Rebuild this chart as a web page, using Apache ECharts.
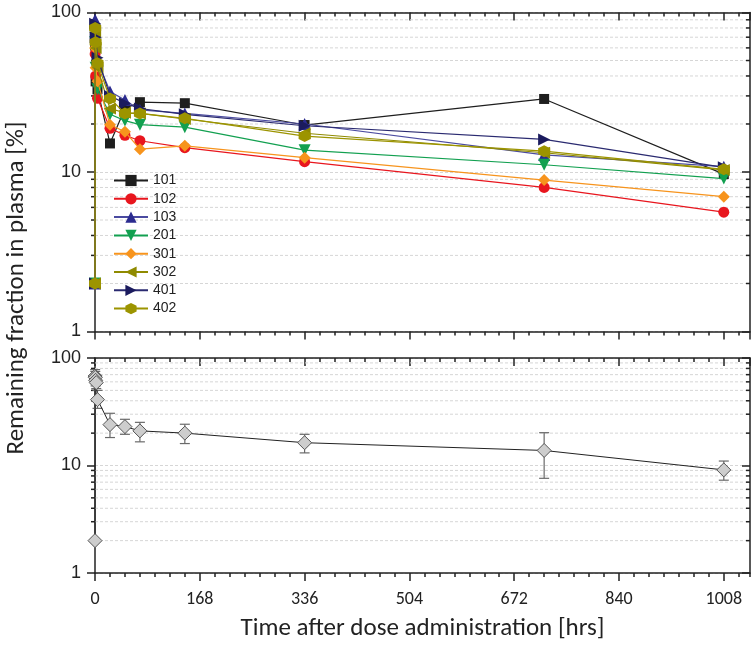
<!DOCTYPE html>
<html><head><meta charset="utf-8">
<script src="https://cdn.jsdelivr.net/npm/echarts@6/dist/echarts.min.js"></script>
<style>html,body{margin:0;padding:0;background:#fff}#c{width:756px;height:645px}</style>
</head><body><div id="c"></div><script>
// ---- data ----
const times = [0, 0.25, 1, 4, 24, 48, 72, 144, 336, 720, 1008];
const s101 = [2, 62, 37, 33, 15.1, 25, 27.4, 27.0, 19.7, 28.7, 9.7];
const s102 = [2, 55, 40, 29, 18.8, 17.0, 15.7, 14.2, 11.6, 8.0, 5.6];
const s103 = [2, 90, 75, 50, 32, 28.3, 24.5, 23.3, 20.0, 12.8, 10.8];
const s201 = [2, 65, 45, 33, 23, 21, 19.8, 19.1, 13.7, 11.1, 9.1];
const s301 = [2, 60, 45, 37, 19.8, 17.9, 13.9, 14.6, 12.3, 8.9, 7.0];
const s302 = [2, 75, 60, 45, 25, 23.5, 23.3, 21.5, 17.5, 13.2, 10.3];
const s401 = [2, 85, 70, 52, 30, 27, 25, 23, 19.5, 16.0, 10.7];
const s402 = [2, 80, 65, 48, 28.9, 23.3, 23.3, 21.7, 16.8, 13.5, 10.4];
const seriesNames = ['101', '102', '103', '201', '301', '302', '401', '402'];
const seriesValues = [s101, s102, s103, s201, s301, s302, s401, s402];

const meanTimes = [0, 0.25, 0.5, 1, 2, 4, 24, 48, 72, 144, 336, 720, 1008];
const meanValues = [2, 68, 66, 62, 59, 41, 24, 23, 21, 20, 16.3, 13.8, 9.1];
const meanLow = [2, 60, 58, 55, 52, 34, 18.2, 19.5, 16.6, 16.0, 13.1, 7.6, 7.3];
const meanHigh = [2, 78, 75, 70, 66, 50, 30.6, 26.9, 25.2, 24.2, 19.5, 20.2, 11.0];

const xMajorStep = 168;
const xMinorStep = 24;
const xMax = 1050;
const yMinorTicks = [2, 3, 4, 5, 6, 7, 8, 9, 20, 30, 40, 50, 60, 70, 80, 90];

// ---- styles ----
const colors = ['#1e1e1e', '#e8161e', '#2b2b8f', '#12a050', '#f7941d', '#8f8a00', '#1b1b5e', '#9c9400'];
const lineColors = ['#1e1e1e', '#e8161e', '#4a4aa0', '#12a050', '#f7941d', '#8f8a00', '#2a2a70', '#9c9400'];
const hex = 'path://M50 0 L93.3 25 L93.3 75 L50 100 L6.7 75 L6.7 25 Z';
const symbols = ['rect', 'circle', 'triangle', 'triangle', 'diamond', 'triangle', 'triangle', hex];
const rotates = [0, 0, 0, 180, 0, 90, -90, 0];
const sizes = [10, 11, 12, 12, 12, 12, 12, 12];
const AX = '#222';
const narrow = "Carlito, 'Liberation Sans Narrow', Lato, sans-serif";

const grids = [
  {left: 95, top: 12.5, width: 655, height: 319},
  {left: 95, top: 358, width: 655, height: 215}
];

const xAxes = [], yAxes = [];
grids.forEach((g, gi) => {
  const base = {type: 'value', gridIndex: gi, min: 0, max: xMax, splitLine: {show: false}};
  xAxes.push(Object.assign({}, base, {
    position: 'bottom', interval: xMajorStep,
    axisLine: {show: true, onZero: false, lineStyle: {color: AX, width: 1.5}},
    axisTick: {show: true, inside: false, length: 8, lineStyle: {color: AX, width: 1.5}},
    axisLabel: {show: gi === 1, showMaxLabel: false, fontSize: 18, color: '#222', margin: 17,
      fontFamily: narrow, formatter: v => String(v)},
    name: gi === 1 ? 'Time after dose administration [hrs]' : '',
    nameLocation: 'middle', nameGap: 43,
    nameTextStyle: {fontSize: 25, color: '#222', fontFamily: narrow}
  }));
  xAxes.push(Object.assign({}, base, {
    position: 'bottom', interval: xMinorStep,
    axisLine: {show: false, onZero: false},
    axisTick: {show: true, inside: false, length: 4, lineStyle: {color: AX, width: 1.5}},
    axisLabel: {show: false}
  }));
  xAxes.push(Object.assign({}, base, {
    position: 'top', interval: xMajorStep,
    axisLine: {show: true, onZero: false, lineStyle: {color: AX, width: 1.5}},
    axisTick: {show: true, inside: true, length: 8, lineStyle: {color: AX, width: 1.5}},
    axisLabel: {show: false}
  }));
  xAxes.push(Object.assign({}, base, {
    position: 'top', interval: xMinorStep,
    axisLine: {show: false, onZero: false},
    axisTick: {show: true, inside: true, length: 4, lineStyle: {color: AX, width: 1.5}},
    axisLabel: {show: false}
  }));
  yAxes.push({
    type: 'log', logBase: 10, gridIndex: gi, min: 1, max: 100, position: 'left',
    axisLine: {show: true, onZero: false, lineStyle: {color: AX, width: 1.5}},
    axisTick: {show: true, inside: false, length: 8, lineStyle: {color: AX, width: 1.5}},
    axisLabel: {fontSize: 18, color: '#222', margin: 14, fontFamily: "'Liberation Sans', Arial, sans-serif"},
    splitLine: {show: true, lineStyle: {color: '#d6d6d6', type: [3, 2], width: 1}}
  });
  yAxes.push({
    type: 'log', logBase: 10, gridIndex: gi, min: 1, max: 100, position: 'right',
    axisLine: {show: true, onZero: false, lineStyle: {color: AX, width: 1.5}},
    axisTick: {show: true, inside: true, length: 8, lineStyle: {color: AX, width: 1.5}},
    axisLabel: {show: false}, splitLine: {show: false}
  });
});

function minorRender(params, api) {
  const cs = params.coordSys;
  const y = api.coord([0, api.value(1)])[1];
  const st = {stroke: AX, lineWidth: 1.5};
  return {type: 'group', children: [
    {type: 'line', shape: {x1: cs.x, y1: y, x2: cs.x + cs.width, y2: y}, style: {stroke: '#d6d6d6', lineWidth: 1, lineDash: [3, 2]}},
    {type: 'line', shape: {x1: cs.x - 4, y1: y, x2: cs.x, y2: y}, style: st},
    {type: 'line', shape: {x1: cs.x + cs.width - 4, y1: y, x2: cs.x + cs.width, y2: y}, style: st}
  ]};
}
function errRender(params, api) {
  const t = api.value(0);
  const lo = api.coord([t, api.value(1)]);
  const hi = api.coord([t, api.value(2)]);
  const st = {stroke: '#6a6a6a', lineWidth: 1.2};
  const w = 5;
  return {type: 'group', children: [
    {type: 'line', shape: {x1: lo[0], y1: lo[1], x2: hi[0], y2: hi[1]}, style: st},
    {type: 'line', shape: {x1: lo[0] - w, y1: lo[1], x2: lo[0] + w, y2: lo[1]}, style: st},
    {type: 'line', shape: {x1: hi[0] - w, y1: hi[1], x2: hi[0] + w, y2: hi[1]}, style: st}
  ]};
}

const series = [];
[0, 1].forEach(gi => {
  series.push({
    type: 'custom', name: 'minor' + gi, xAxisIndex: gi * 4, yAxisIndex: gi * 2, z: 1, silent: true,
    renderItem: minorRender, data: yMinorTicks.map(v => [0, v]), clip: false
  });
});
seriesNames.forEach((n, i) => {
  series.push({
    type: 'line', name: n, xAxisIndex: 0, yAxisIndex: 0, z: 3 + i,
    data: times.map((t, k) => [t, seriesValues[i][k]]),
    symbol: symbols[i], symbolSize: sizes[i], symbolRotate: rotates[i], showAllSymbol: true,
    itemStyle: {color: colors[i], borderWidth: 0},
    lineStyle: {color: lineColors[i], width: 1.2},
    clip: false
  });
});
series.push({
  type: 'custom', name: 'err', xAxisIndex: 4, yAxisIndex: 2, z: 3, silent: true,
  renderItem: errRender, clip: false,
  data: meanTimes.map((t, k) => [t, meanLow[k], meanHigh[k]])
});
series.push({
  type: 'line', name: 'mean', xAxisIndex: 4, yAxisIndex: 2, z: 4,
  data: meanTimes.map((t, k) => [t, meanValues[k]]),
  symbol: 'diamond', symbolSize: 14, showAllSymbol: true,
  itemStyle: {color: '#cdcdcd', borderColor: '#555', borderWidth: 1},
  lineStyle: {color: '#222', width: 1}, clip: false
});

const chart = echarts.init(document.getElementById('c'), null, {renderer: 'canvas'});
chart.setOption({
  animation: false,
  backgroundColor: '#fff',
  grid: grids,
  xAxis: xAxes,
  yAxis: yAxes,
  legend: {
    data: seriesNames, orient: 'vertical', left: 113, top: 173.5, padding: 0,
    itemWidth: 34, itemHeight: 14, itemGap: 4.3,
    textStyle: {fontSize: 14, color: '#222', fontFamily: "'Liberation Sans', Arial, sans-serif"}
  },
  graphic: [{
    type: 'text', rotation: Math.PI / 2,
    x: 17, y: 288,
    style: {text: 'Remaining fraction in plasma [%]', fontSize: 25, fill: '#222', fontFamily: narrow, textAlign: 'center', textVerticalAlign: 'middle'}
  }],
  series: series
});
</script></body></html>
